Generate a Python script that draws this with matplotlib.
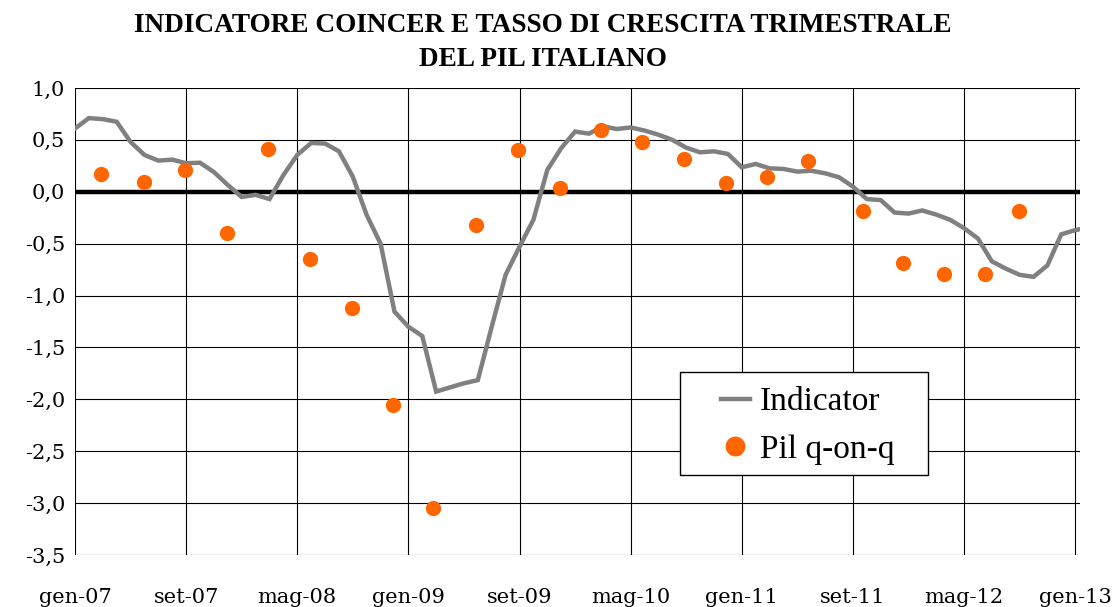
import matplotlib
matplotlib.use("Agg")
import matplotlib.pyplot as plt
from matplotlib.patches import Rectangle

# Monthly indicator, months since gen-07
indicator = [0.61, 0.71, 0.70, 0.675, 0.48, 0.355, 0.30, 0.31, 0.275, 0.28,
             0.19, 0.065, -0.05, -0.03, -0.07, 0.16, 0.355, 0.47, 0.465, 0.39,
             0.145, -0.225, -0.50, -1.155, -1.30, -1.39, -1.925, -1.885, -1.845, -1.815,
             -1.30, -0.80, -0.53, -0.27, 0.21, 0.42, 0.58, 0.56, 0.63, 0.605,
             0.62, 0.59, 0.55, 0.50, 0.425, 0.38, 0.39, 0.365, 0.236, 0.268,
             0.226, 0.22, 0.194, 0.203, 0.178, 0.14, 0.05, -0.07, -0.08, -0.20,
             -0.21, -0.18, -0.22, -0.27, -0.35, -0.45, -0.67, -0.74, -0.80, -0.82,
             -0.71, -0.41, -0.37, -0.36]
indicator_month = list(range(73)) + [72.35]

# Quarterly GDP growth (q-on-q), position in months since gen-07
pil_month = [1.9, 4.95, 7.95, 10.95, 13.9, 16.95, 19.95, 22.9, 25.8, 28.9,
             31.9, 34.9, 37.85, 40.85, 43.85, 46.85, 49.8, 52.8, 56.75, 59.6,
             62.55, 65.5, 67.95]
pil = [0.17, 0.09, 0.21, -0.40, 0.41, -0.65, -1.12, -2.05, -3.05, -0.32,
       0.40, 0.04, 0.60, 0.48, 0.32, 0.08, 0.145, 0.30, -0.19, -0.69,
       -0.79, -0.79, -0.19]

tick_months = [0, 8, 16, 24, 32, 40, 48, 56, 64, 72]
tick_labels = ["gen-07", "set-07", "mag-08", "gen-09", "set-09", "mag-10",
               "gen-11", "set-11", "mag-12", "gen-13"]
y_ticks = [1.0, 0.5, 0.0, -0.5, -1.0, -1.5, -2.0, -2.5, -3.0, -3.5]

fig = plt.figure(figsize=(11.16, 6.07), dpi=100)
ax = fig.add_axes([75/1116, 1-555/607, (1080-75)/1116, (555-88)/607])

ax.set_xlim(0, 72.35)
ax.set_ylim(-3.5, 1.0)
for m in tick_months:
    ax.axvline(m, color="black", lw=0.8, zorder=1)
for y in y_ticks:
    ax.axhline(y, color="black", lw=0.8, zorder=1)
ax.axhline(0, color="black", lw=3.2, zorder=2)

ax.plot(indicator_month, indicator, color="#808080", lw=3.2, zorder=3,
        solid_joinstyle="miter", label="Indicator")
ax.plot(pil_month, pil, ls="none", marker="o", ms=11, color="#FF6600",
        markeredgewidth=0, zorder=4, label="Pil q-on-q")

for s in ax.spines.values():
    s.set_visible(False)
ax.set_xticks(tick_months)
ax.set_xticklabels(tick_labels, family="DejaVu Serif", fontsize=15)
ax.set_yticks(y_ticks)
ax.set_yticklabels([f"{v:.1f}".replace(".", ",") for v in y_ticks],
                   family="DejaVu Serif", fontsize=15)
ax.tick_params(length=0, pad=7)
ax.tick_params(axis="x", pad=24)

# legend box
ax.add_patch(Rectangle((0.602, 0.171), 0.247, 0.221, transform=ax.transAxes,
                       facecolor="white", edgecolor="black", lw=1.0, zorder=5))
leg = ax.legend(loc="upper left", bbox_to_anchor=(0.643, 0.360),
                prop={"family": "Liberation Serif", "size": 24},
                frameon=False, handlelength=0.85, handletextpad=0.3,
                borderpad=0, labelspacing=0.5, borderaxespad=0,
                markerscale=1.3)
leg.set_zorder(6)

fig.text(543/1116, 1-25/607, "INDICATORE COINCER E TASSO DI CRESCITA TRIMESTRALE",
         ha="center", va="center", family="Liberation Serif", weight="bold", fontsize=19.6)
fig.text(543/1116, 1-60/607, "DEL PIL ITALIANO",
         ha="center", va="center", family="Liberation Serif", weight="bold", fontsize=19.6)

fig.savefig("out.png", dpi=100)
